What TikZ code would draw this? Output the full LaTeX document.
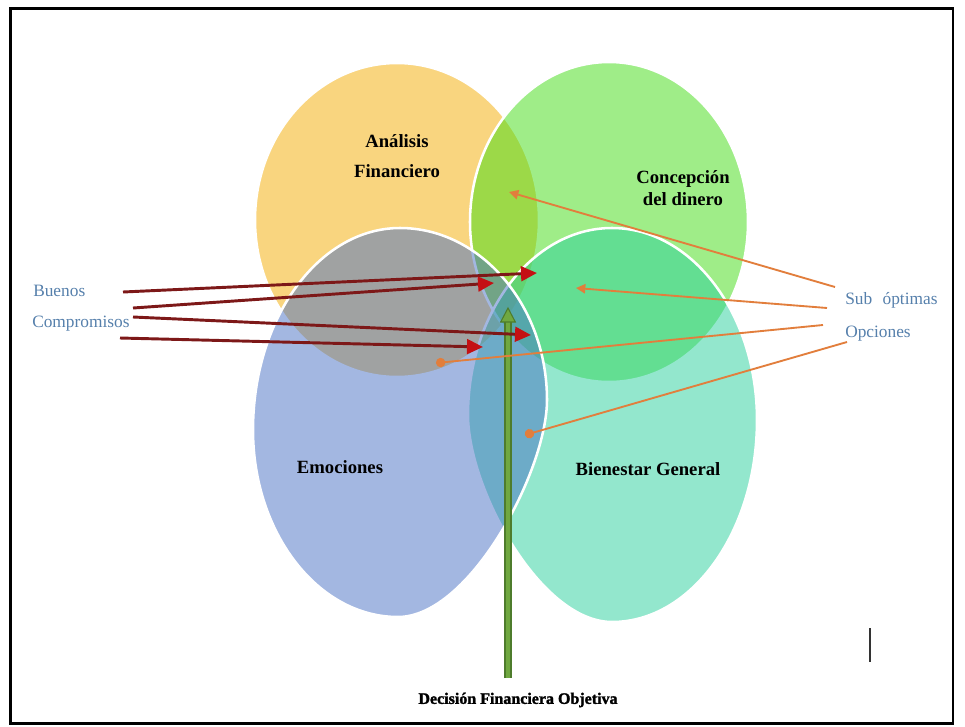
\documentclass[tikz,border=0pt]{standalone}
\usepackage{fontspec}
\setmainfont{Liberation Serif}
\newfontfamily\heavyserif{Liberation Serif Bold}[FakeBold=1.6]
\usetikzlibrary{arrows.meta}

\definecolor{vyellow}{RGB}{245,173,0}
\definecolor{vgreen}{RGB}{65,221,19}
\definecolor{vteal}{RGB}{41,209,157}
\definecolor{vblue}{RGB}{73,113,197}
\definecolor{labelblue}{RGB}{86,128,172}
\definecolor{darkred}{RGB}{125,24,24}
\definecolor{headred}{RGB}{196,16,20}
\definecolor{lineorange}{RGB}{226,126,60}
\definecolor{shaftgreen}{RGB}{112,168,64}
\definecolor{edgegreen}{RGB}{78,124,44}

\tikzset{
  venn/.style={fill=#1, fill opacity=0.5, draw=white, line width=1.9pt},
  setlabel/.style={font=\fontsize{14}{17}\selectfont\bfseries, align=center, text=black},
  sidelabel/.style={font=\fontsize{13}{15}\selectfont, text=labelblue, anchor=west, inner sep=0pt},
  redarrow/.style={draw=darkred, line width=2.2pt,
    -{Triangle[length=12pt,width=11pt,color=headred]}},
  orangetri/.style={draw=lineorange, line width=1.4pt,
    -{Triangle[length=7pt,width=7pt,color=lineorange]}},
  orangedot/.style={draw=lineorange, line width=1.4pt,
    -{Circle[length=7pt,width=7pt,color=lineorange]}},
}

\begin{document}
\begin{tikzpicture}[x=0.75pt,y=-0.75pt]
\useasboundingbox (0,0) rectangle (965,726);
\fill[white] (0,0) rectangle (965,726);

% frame
\draw[line width=1.9pt, black] (10.5,8.5) rectangle (953,723.5);

% the four sets: two ovals on top, two slightly egg-shaped ovals below
\path[venn=vyellow] (397,220) ellipse [x radius=106.5pt, y radius=117.75pt];
\path[venn=vgreen]  (609,222) ellipse [x radius=104.25pt, y radius=120pt];
\path[venn=vteal] (612,228)
  .. controls (692,228) and (757,314) .. (757,420)
  .. controls (757,531) and (692,622) .. (612,622)
  .. controls (540,622) and (468,488) .. (468,415)
  .. controls (468,313) and (532,228) .. cycle;
\path[venn=vblue] (400,228)
  .. controls (481,228) and (547,306) .. (547,400)
  .. controls (547,470) and (470,617) .. (398,617)
  .. controls (318,617) and (253,533) .. (253,430)
  .. controls (253,318) and (319,228) .. cycle;

% set names
\node[setlabel] (analisis) at (397,156) {Análisis\\[6pt]Financiero};
\node[setlabel, font=\fontsize{14}{16}\selectfont\bfseries] (concepcion) at (683,188) {Concepción\\del dinero};
\node[setlabel] (emociones) at (340,467) {Emociones};
\node[setlabel] (bienestar) at (648,469) {Bienestar General};

% side captions
\node[sidelabel] (buenos) at (33,291) {Buenos};
\node[sidelabel] (compromisos) at (32,324) {Compromisos};
\node[sidelabel] (sub) at (845,300) {Sub\hspace{0.6em}óptimas};
\node[sidelabel] (opciones) at (845,334) {Opciones};

% bottom caption and its arrow
\node[font=\fontsize{12}{14}\heavyserif, text=black] (decision) at (518,700) {Decisión Financiera Objetiva};
\coordinate (gs) at (508,678);
\coordinate (ge) at (508,322);
\coordinate (gtip) at (508,308);
\draw[line width=5.6pt, edgegreen] (gs) -- (ge);
\draw[line width=3.4pt, shaftgreen] (gs) -- (ge);
\filldraw[fill=shaftgreen, draw=edgegreen, line width=0.8pt]
  ([xshift=-5.5pt]ge) -- (gtip) -- ([xshift=5.5pt]ge) -- cycle;

% arrows from the right captions
\coordinate (o1s) at (835,287); \coordinate (o1e) at (509,192);
\coordinate (o2s) at (827,308); \coordinate (o2e) at (576,288);
\coordinate (o3s) at (823,325); \coordinate (o3e) at (436,363);
\coordinate (o4s) at (847,342); \coordinate (o4e) at (525,435);
\draw[orangetri] (o1s) -- (o1e);
\draw[orangetri] (o2s) -- (o2e);
\draw[orangedot] (o3s) -- (o3e);
\draw[orangedot] (o4s) -- (o4e);

% arrows from the left captions
\coordinate (r1s) at (123,292); \coordinate (r1e) at (537,273);
\coordinate (r2s) at (133,308); \coordinate (r2e) at (494,283);
\coordinate (r3s) at (133,317); \coordinate (r3e) at (531,335);
\coordinate (r4s) at (120,338); \coordinate (r4e) at (483,347);
\draw[redarrow] (r1s) -- (r1e);
\draw[redarrow] (r2s) -- (r2e);
\draw[redarrow] (r3s) -- (r3e);
\draw[redarrow] (r4s) -- (r4e);

% small stroke near the lower right corner
\coordinate (bar1) at (870,628);
\coordinate (bar2) at (870,662);
\draw[line width=1.2pt, black!80] (bar1) -- (bar2);
\end{tikzpicture}
\end{document}
